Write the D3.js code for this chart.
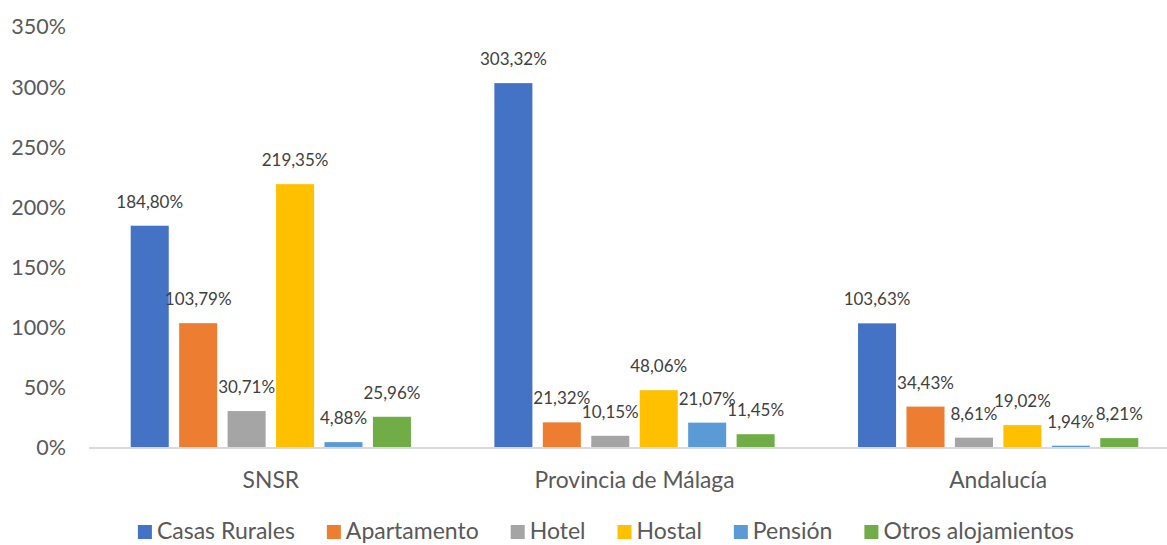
<!DOCTYPE html>
<html>
<head>
<meta charset="utf-8">
<script src="https://cdn.jsdelivr.net/npm/d3@7"></script>
<style>
  html, body { margin: 0; padding: 0; background: #fff; }
  svg { display: block; font-family: Lato, "Open Sans", sans-serif; }
</style>
</head>
<body>
<svg id="chart" width="1167" height="545"></svg>
<script>
// Regions shown on the x axis
const regions = ["SNSR", "Provincia de Málaga", "Andalucía"];
// Accommodation types (series)
const series = ["Casas Rurales", "Apartamento", "Hotel", "Hostal", "Pensión", "Otros alojamientos"];
const seriesColors = ["#4472C4", "#ED7D31", "#A5A5A5", "#FFC000", "#5B9BD5", "#70AD47"];
// Growth per series (%), one value per region
const casasRurales = [184.80, 303.32, 103.63];
const apartamento = [103.79, 21.32, 34.43];
const hotel = [30.71, 10.15, 8.61];
const hostal = [219.35, 48.06, 19.02];
const pension = [4.88, 21.07, 1.94];
const otros = [25.96, 11.45, 8.21];
const seriesValues = [casasRurales, apartamento, hotel, hostal, pension, otros];
// Y axis ticks (%)
const yTicks = [0, 50, 100, 150, 200, 250, 300, 350];

const svg = d3.select("#chart");

const x0 = d3.scaleBand().domain(regions).range([89, 1180]).padding(0);
const groupPad = 36.5;
const x1 = d3.scaleBand().domain(series)
  .range([groupPad, x0.bandwidth() - groupPad])
  .paddingInner(0.215).paddingOuter(0.1075);
const y = d3.scaleLinear().domain([0, 350]).range([448, 27]);
const color = d3.scaleOrdinal().domain(series).range(seriesColors);

const fmt = v => v.toFixed(2).replace(".", ",") + "%";

// Y axis labels
const yAxis = d3.axisLeft(y).tickValues(yTicks).tickSize(0).tickPadding(0)
  .tickFormat(d => d + "%");
const gy = svg.append("g").attr("transform", "translate(66,0)").call(yAxis);
gy.select(".domain").remove();
gy.selectAll("text").attr("font-size", 21.5).attr("fill", "#595959")
  .attr("font-family", "Lato, sans-serif");

// Bars and value labels
const rows = [];
regions.forEach((r, i) => series.forEach((s, j) => rows.push({ region: r, series: s, value: seriesValues[j][i] })));

const groups = svg.append("g").selectAll("g").data(regions).join("g")
  .attr("transform", d => `translate(${x0(d)},0)`);

groups.selectAll("rect")
  .data(r => rows.filter(d => d.region === r))
  .join("rect")
  .attr("x", d => x1(d.series))
  .attr("width", x1.bandwidth())
  .attr("y", d => y(d.value))
  .attr("height", d => y(0) - y(d.value))
  .attr("fill", d => color(d.series));

groups.selectAll("text.val")
  .data(r => rows.filter(d => d.region === r))
  .join("text")
  .attr("class", "val")
  .attr("x", d => x1(d.series) + x1.bandwidth() / 2)
  .attr("y", d => y(d.value) - 24)
  .attr("dy", "0.35em")
  .attr("text-anchor", "middle")
  .attr("font-size", 17)
  .attr("fill", "#404040")
  .text(d => fmt(d.value));

// Baseline
svg.append("line")
  .attr("x1", x0.range()[0]).attr("x2", x0.range()[1])
  .attr("y1", y(0)).attr("y2", y(0))
  .attr("stroke", "#d9d9d9").attr("stroke-width", 2);

// Category labels
const xAxis = d3.axisBottom(x0).tickSize(0).tickPadding(0);
const gx = svg.append("g").attr("transform", "translate(0,480)").call(xAxis);
gx.select(".domain").remove();
gx.selectAll("text").attr("font-size", 22.8).attr("fill", "#595959")
  .attr("dy", "0.35em").attr("font-family", "Lato, sans-serif");

// Legend (baseline kept high enough for descenders to fit)
const legend = svg.append("g").attr("transform", "translate(0,539)");
let cursor = 0;
const items = [];
series.forEach((s, i) => {
  const g = legend.append("g");
  g.append("rect").attr("x", 0).attr("y", -14).attr("width", 14).attr("height", 14).attr("fill", seriesColors[i]);
  const t = g.append("text").attr("x", 19).attr("font-size", 23).attr("fill", "#595959").text(s);
  const w = 19 + t.node().getComputedTextLength();
  items.push({ g, x: cursor });
  cursor += w + 32;
});
const total = cursor - 32;
const start = 606 - total / 2;
items.forEach(it => it.g.attr("transform", `translate(${start + it.x},0)`));
</script>
</body>
</html>
